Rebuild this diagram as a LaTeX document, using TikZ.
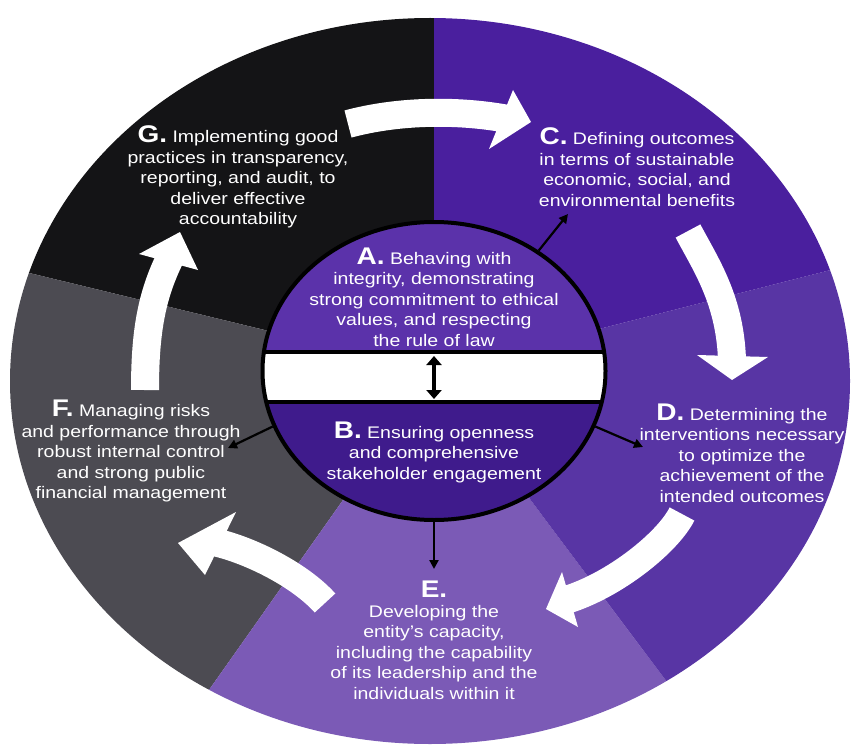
\documentclass[tikz,border=0pt]{standalone}
\usepackage{fontspec}
\setmainfont{Liberation Sans}
\usetikzlibrary{arrows.meta,shapes.geometric}

\definecolor{gblack}{HTML}{141416}
\definecolor{fgray}{HTML}{4C4B52}
\definecolor{epurple}{HTML}{7B5AB6}
\definecolor{dpurple}{HTML}{5835A4}
\definecolor{cpurple}{HTML}{4A1F9E}
\definecolor{apurple}{HTML}{5B32AA}
\definecolor{bpurple}{HTML}{3F1B8C}

\newcommand{\kl}[1]{{\fontsize{28}{24}\selectfont\bfseries #1}}

\begin{document}
\begin{tikzpicture}[x=1pt, y=-1pt,
  txt/.style={text=white, align=center, inner sep=0pt, yscale=0.86, font=\fontsize{19.5}{23.8}\selectfont},
  flow/.style={draw=white, line width=28pt},
  link/.style={line width=2.2pt, -{Triangle[length=9pt,width=9pt]}}]
\useasboundingbox (0,0) rectangle (853,746);
\coordinate (O) at (434,371);

\begin{scope}
\clip (430,381) ellipse [x radius=420, y radius=363];
\fill[gblack] (O) -- (434,-300) -- (-400,-300) -- (-400,169) -- cycle;
\fill[fgray] (O) -- (-400,169) -- (-400,1427) -- (-311,1427) -- cycle;
\fill[epurple] (O) -- (-311,1427) -- (1252,1463) -- cycle;
\fill[dpurple] (O) -- (1252,1463) -- (1400,1463) -- (1400,125) -- cycle;
\fill[cpurple] (O) -- (1400,125) -- (1400,-300) -- (434,-300) -- cycle;
\end{scope}

\draw[flow] (348,124) .. controls (400,110) and (460,110) .. (508,119);
\fill[white] (513,90) -- (531,122) -- (489,149) -- cycle;
\draw[flow] (688,231) .. controls (706,265) and (730,300) .. (732,360);
\fill[white] (697,355) -- (768,357) -- (732,380) -- cycle;
\draw[flow] (682,514) .. controls (668,542) and (615,585) .. (566,600);
\fill[white] (562,572) -- (546,609) -- (578,627) -- cycle;
\draw[flow] (325,603) .. controls (300,575) and (250,550) .. (214,542);
\fill[white] (236,512) -- (178,543) -- (205,575) -- cycle;
\draw[flow] (145,390) .. controls (145,330) and (152,295) .. (170,258);
\fill[white] (139,254) -- (180,232) -- (198,270) -- cycle;

\begin{scope}
\clip (O) ellipse [x radius=171.5, y radius=149];
\fill[apurple] (250,200) rectangle (620,352);
\fill[white] (250,352) rectangle (620,402);
\fill[bpurple] (250,402) rectangle (620,540);
\draw[line width=3.5pt] (250,352) -- (620,352) (250,402) -- (620,402);
\end{scope}
\node[ellipse, draw, line width=4pt, minimum width=343pt, minimum height=298pt, inner sep=0pt] (core) at (O) {};

\coordinate (up) at (434,356);
\coordinate (dn) at (434,399);
\draw[line width=4pt, {Triangle[length=9pt,width=15pt]}-{Triangle[length=9pt,width=15pt]}] (up) -- (dn);

\coordinate (toC) at (568,214);
\coordinate (toD) at (643,447);
\coordinate (toF) at (228,448);
\coordinate (toE) at (434,569);
\draw[link] (core.49) -- (toC);
\draw[link] (core.-19) -- (toD);
\draw[link] (core.199) -- (toF);
\draw[link] (core.south) -- (toE);

\node[txt] (tG) at (238,177) {\kl{G.} Implementing good\\practices in transparency,\\reporting, and audit, to\\deliver effective\\accountability};
\node[txt] (tC) at (637,167) {\kl{C.} Defining outcomes\\in terms of sustainable\\economic, social, and\\environmental benefits};
\node[txt] (tA) at (434,297) {\kl{A.} Behaving with\\integrity, demonstrating\\strong commitment to ethical\\values, and respecting\\the rule of law};
\node[txt] (tB) at (434,452) {\kl{B.} Ensuring openness\\and comprehensive\\stakeholder engagement};
\node[txt] (tD) at (742,453) {\kl{D.} Determining the\\interventions necessary\\to optimize the\\achievement of the\\intended outcomes};
\node[txt] (tE) at (434,640) {\kl{E.}\\Developing the\\entity’s capacity,\\including the capability\\of its leadership and the\\individuals within it};
\node[txt] (tF) at (131,451) {\kl{F.} Managing risks\\and performance through\\robust internal control\\and strong public\\financial management};
\end{tikzpicture}
\end{document}
